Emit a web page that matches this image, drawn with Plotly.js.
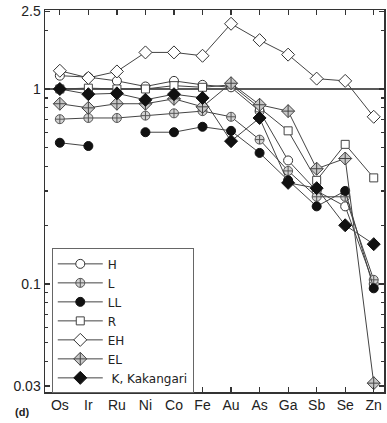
<!DOCTYPE html>
<html>
<head>
<meta charset="utf-8">
<script src="https://cdn.plot.ly/plotly-3.0.1.min.js"></script>
<style>html,body{margin:0;padding:0;background:#fff;}#chart{width:387px;height:423px;}</style>
</head>
<body>
<div id="chart"></div>
<script>
const elements = ["Os","Ir","Ru","Ni","Co","Fe","Au","As","Ga","Sb","Se","Zn"];
const H_vals  = [1.17, 1.15, 1.10, 1.03, 1.10, 1.05, 1.02, 0.77, 0.43, 0.30, 0.25, 0.10];
const L_vals  = [0.70, 0.71, 0.71, 0.73, 0.75, 0.77, 0.72, 0.55, 0.38, 0.28, 0.28, 0.105];
const LL_vals = [0.53, 0.51, null, 0.60, 0.60, 0.64, 0.61, 0.47, 0.34, 0.25, 0.30, 0.095];
const R_vals  = [1.00, 1.01, 1.00, 1.00, 1.04, 1.02, 1.05, 0.80, 0.61, 0.34, 0.52, 0.35];
const EH_vals = [1.24, 1.14, 1.23, 1.54, 1.54, 1.48, 2.16, 1.78, 1.50, 1.13, 1.10, 0.72];
const EL_vals = [0.84, 0.80, 0.84, 0.84, 0.89, 0.81, 1.07, 0.83, 0.77, 0.39, 0.44, 0.031];
const K_vals  = [1.00, 0.94, 0.95, 0.88, 0.94, 0.90, 0.54, 0.71, 0.33, 0.31, 0.20, 0.16];
const seriesNames = ["H","L","LL","R","EH","EL"," K, Kakangari"];
const yTickVals = [0.03, 0.1, 1, 2.5];
const yTickText = ["0.03", "0.1", "1", "2.5"];
const yMinorVals = [0.04,0.05,0.06,0.07,0.08,0.09,0.2,0.3,0.4,0.5,0.6,0.7,0.8,0.9,2];
const refLevel = 1;

const lineColor = "#444";
function tr(name, y, symbol, fill, edge, size) {
  return {
    x: elements, y: y, name: name, type: "scatter", mode: "lines+markers",
    line: {color: lineColor, width: 1},
    marker: {symbol: symbol, size: size || 9, color: fill, line: {color: edge, width: 1}},
    cliponaxis: false
  };
}
const data = [
  tr(seriesNames[0], H_vals, "circle", "#ffffff", "#333"),
  tr(seriesNames[1], L_vals, "circle-cross", "#d4d4d4", "#555"),
  tr(seriesNames[2], LL_vals, "circle", "#111", "#111"),
  tr(seriesNames[3], R_vals, "square", "#ffffff", "#444", 8),
  tr(seriesNames[4], EH_vals, "diamond", "#ffffff", "#333", 10),
  tr(seriesNames[5], EL_vals, "diamond-cross", "#c8c8c8", "#444", 10),
  tr(seriesNames[6], K_vals, "diamond", "#111", "#111", 10)
];

const font = {family: "Liberation Sans, Arial, sans-serif", size: 14, color: "#222"};
const legendFont = {family: "DejaVu Sans, sans-serif", size: 12, color: "#222"};
const layout = {
  width: 387, height: 423,
  margin: {l: 45, r: 3, t: 10, b: 31},
  paper_bgcolor: "#fff", plot_bgcolor: "#fff",
  font: font,
  showlegend: true,
  xaxis: {
    type: "category", range: [-0.52, 11.36],
    showline: true, linecolor: "#333", linewidth: 1.5, mirror: "ticks",
    ticks: "inside", ticklen: 5, tickcolor: "#333", tickwidth: 1.2,
    showgrid: false, zeroline: false, tickfont: font
  },
  yaxis: {
    type: "log", range: [-1.554, 0.405],
    showline: true, linecolor: "#333", linewidth: 1.5, mirror: "ticks",
    ticks: "inside", ticklen: 5, tickcolor: "#333", tickwidth: 1.2,
    tickmode: "array", tickvals: yTickVals, ticktext: yTickText,
    minor: {tickmode: "array", tickvals: yMinorVals, ticks: "inside", ticklen: 3, tickcolor: "#333", showgrid: false},
    showgrid: false, zeroline: false, tickfont: font
  },
  shapes: [{type: "line", xref: "paper", x0: 0, x1: 1, yref: "y", y0: refLevel, y1: refLevel,
            line: {color: "#222", width: 1.5}, layer: "below"}],
  legend: {
    x: 0.02, y: 0.376, xanchor: "left", yanchor: "top",
    bgcolor: "#fff", bordercolor: "#666", borderwidth: 1,
    font: legendFont, itemwidth: 45, tracegroupgap: 0
  },
  annotations: [{text: "<b>(d)</b>", xref: "paper", yref: "paper", x: -0.068, y: -0.052,
                 xanchor: "center", yanchor: "middle", showarrow: false,
                 font: {family: "Liberation Sans, Arial, sans-serif", size: 11, color: "#222"}}]
};
Plotly.newPlot("chart", data, layout, {displayModeBar: false, staticPlot: true});
</script>
</body>
</html>
